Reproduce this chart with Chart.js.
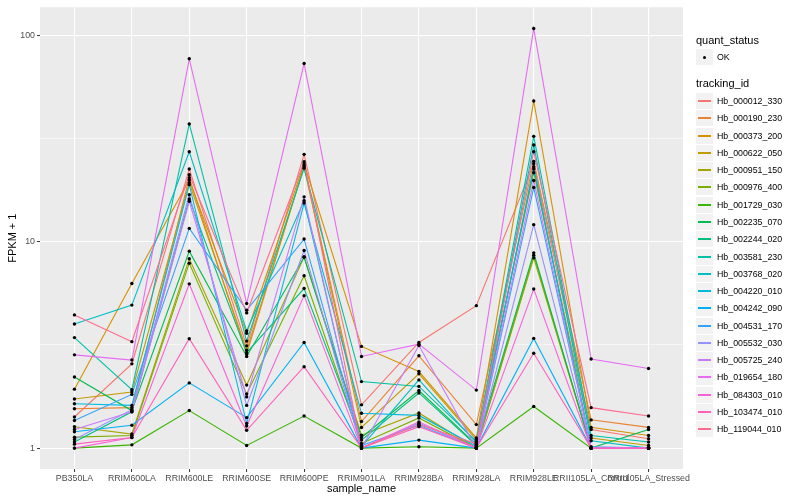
<!DOCTYPE html>
<html>
<head>
<meta charset="utf-8">
<script src="https://cdn.jsdelivr.net/npm/chart.js@4.4.0/dist/chart.umd.min.js"></script>
<style>
  body { margin: 0; background: #fff; font-family: "Liberation Sans", Arial, sans-serif; }
  #wrap { position: relative; width: 800px; height: 500px; }
  #legend { position: absolute; left: 0; top: 0; }
  .ttl { position: absolute; left: 696px; font-size: 11px; line-height: 13px; color: #000; }
  .key { position: absolute; left: 696px; width: 17px; height: 16px; background: #F2F2F2; }
  .key .ln { position: absolute; left: 2px; width: 13px; top: 7px; height: 2px; }
  .key .dot { position: absolute; left: 7px; top: 7px; width: 3px; height: 3px; border-radius: 2px; background: #000; }
  .lab { position: absolute; left: 717px; font-size: 8.8px; line-height: 10px; color: #000; }
</style>
</head>
<body>
<div id="wrap">
  <canvas id="chart" width="800" height="500"></canvas>
  <div id="legend"></div>
</div>
<script>
const categories = ["PB350LA", "RRIM600LA", "RRIM600LE", "RRIM600SE", "RRIM600PE", "RRIM901LA",
  "RRIM928BA", "RRIM928LA", "RRIM928LE", "RRII105LA_Control", "RRII105LA_Stressed"];

const trackingIds = ["Hb_000012_330", "Hb_000190_230", "Hb_000373_200", "Hb_000622_050", "Hb_000951_150",
  "Hb_000976_400", "Hb_001729_030", "Hb_002235_070", "Hb_002244_020", "Hb_003581_230", "Hb_003768_020",
  "Hb_004220_010", "Hb_004242_090", "Hb_004531_170", "Hb_005532_030", "Hb_005725_240", "Hb_019654_180",
  "Hb_084303_010", "Hb_103474_010", "Hb_119044_010"];

const colors = ["#F8766D", "#EA8331", "#D89000", "#C09B00", "#A3A500", "#7CAE00", "#39B600", "#00BB4E",
  "#00BF7D", "#00C1A3", "#00BFC4", "#00BAE0", "#00B0F6", "#35A2FF", "#9590FF", "#C77CFF", "#E76BF3",
  "#FA62DB", "#FF62BC", "#FF6C91"];

// FPKM + 1, one value per sample (same order as categories)
const hb000012 = [1.415, 2.56, 22.5, 3.13, 26.5, 1.62, 3.25, 4.9, 23.9, 1.23, 1.11];
const hb000190 = [1.55, 1.57, 20.4, 2.86, 23.4, 1.345, 2.80, 1.30, 24.5, 1.37, 1.26];
const hb000373 = [1.93, 6.27, 19.9, 3.60, 23.9, 3.11, 2.35, 1.12, 48.1, 1.26, 1.15];
const hb000622 = [1.73, 1.87, 19.3, 2.98, 23.0, 1.258, 2.29, 1.10, 21.6, 1.12, 1.03];
const hb000951 = [1.27, 1.17, 8.27, 2.02, 8.46, 1.155, 1.48, 1.0, 8.35, 1.0, 1.0];
const hb000976 = [1.13, 1.15, 7.87, 1.83, 6.84, 1.053, 1.40, 1.0, 8.6, 1.0, 1.0];
const hb001729 = [1.0, 1.037, 1.52, 1.03, 1.43, 1.0, 1.015, 1.0, 1.59, 1.0, 1.0];
const hb002235 = [2.21, 1.52, 9.0, 2.78, 8.4, 1.126, 1.90, 1.04, 8.83, 1.0, 1.23];
const hb002244 = [1.07, 1.50, 16.1, 2.9, 5.93, 1.093, 1.85, 1.03, 22.5, 1.0, 1.0];
const hb003581 = [3.43, 1.92, 37.2, 3.3, 22.7, 2.10, 1.99, 1.08, 32.4, 1.15, 1.07];
const hb003768 = [3.99, 4.93, 27.3, 3.70, 15.8, 1.017, 2.14, 1.06, 29.4, 1.085, 1.0];
const hb004220 = [1.64, 1.61, 18.9, 1.315, 15.4, 1.475, 1.44, 1.02, 23.1, 1.0, 1.0];
const hb004242 = [1.2, 1.29, 2.07, 1.405, 3.25, 1.0, 1.093, 1.0, 3.40, 1.0, 1.0];
const hb004531 = [1.36, 1.82, 11.6, 4.66, 10.3, 1.03, 1.29, 1.0, 18.3, 1.015, 1.0];
const hb005532 = [1.1, 1.535, 16.9, 1.61, 9.07, 1.0, 1.32, 1.0, 12.1, 1.0, 1.0];
const hb005725 = [1.23, 1.50, 15.7, 1.77, 16.5, 1.0, 3.14, 1.0, 19.8, 1.0, 1.0];
const hb019654 = [2.83, 2.67, 77, 5.02, 73, 2.78, 3.19, 1.91, 108, 2.70, 2.43];
const hb084303 = [1.0, 1.126, 6.25, 1.28, 5.48, 1.0, 1.34, 1.0, 5.90, 1.0, 1.0];
const hb103474 = [1.045, 1.126, 3.39, 1.22, 2.48, 1.0, 1.27, 1.0, 2.88, 1.0, 1.0];
const hb119044 = [4.42, 3.28, 21.1, 4.52, 24.4, 1.0, 1.30, 1.05, 27.3, 1.57, 1.43];

const seriesValues = [hb000012, hb000190, hb000373, hb000622, hb000951, hb000976, hb001729, hb002235,
  hb002244, hb003581, hb003768, hb004220, hb004242, hb004531, hb005532, hb005725, hb019654, hb084303,
  hb103474, hb119044];

const yTicks = [1, Math.sqrt(10), 10, Math.sqrt(1000), 100];
const yMajor = [1, 10, 100];

const toPoints = (vals) => vals.map((v, i) => ({ x: i, y: v }));

const datasets = seriesValues.map((vals, s) => ({
  label: trackingIds[s],
  data: toPoints(vals),
  borderColor: colors[s],
  borderWidth: 1.1,
  pointRadius: 0,
  fill: false,
  tension: 0,
  order: 20 - s,
}));

// all points in black on top of the lines
datasets.push({
  label: "OK",
  data: seriesValues.flatMap(toPoints),
  showLine: false,
  pointRadius: 1.7,
  pointBackgroundColor: "#000",
  pointBorderWidth: 0,
  order: 0,
});

const panelBg = {
  id: "panelBg",
  beforeDraw(chart) {
    const { ctx, chartArea: a } = chart;
    ctx.save();
    ctx.fillStyle = "#EBEBEB";
    ctx.fillRect(a.left, a.top, a.right - a.left, a.bottom - a.top);
    ctx.restore();
  },
};

const tickFont = { family: "'Liberation Sans', Arial, sans-serif", size: 8.8 };
const titleFont = { family: "'Liberation Sans', Arial, sans-serif", size: 11 };

new Chart(document.getElementById("chart"), {
  type: "line",
  data: { datasets },
  options: {
    responsive: false,
    animation: false,
    layout: { padding: { left: 0, right: 117, top: 5, bottom: 0 } },
    plugins: { legend: { display: false }, tooltip: { enabled: false } },
    scales: {
      x: {
        type: "linear",
        min: -0.6,
        max: 10.6,
        bounds: "data",
        afterBuildTicks: (s) => { s.ticks = categories.map((c, i) => ({ value: i })); },
        afterFit: (s) => { s.height = 31; },
        grid: { color: "#FFFFFF", lineWidth: 1.1, tickColor: "#333333", tickLength: 3, tickWidth: 1 },
        border: { display: false },
        ticks: {
          autoSkip: false, maxRotation: 0, minRotation: 0, padding: 1,
          color: "#4D4D4D", font: tickFont,
          callback: (v) => categories[v],
        },
        title: { display: true, text: "sample_name", color: "#000", font: titleFont, padding: { top: 0, bottom: 4 } },
      },
      y: {
        type: "logarithmic",
        min: Math.pow(10, -0.1013),
        max: Math.pow(10, 2.136),
        bounds: "data",
        afterBuildTicks: (s) => { s.ticks = yTicks.map((v) => ({ value: v })); },
        afterFit: (s) => { s.width = 40; },
        grid: {
          color: "#FFFFFF",
          lineWidth: (c) => (yMajor.includes(c.tick && c.tick.value) ? 1.1 : 0.55),
          tickColor: (c) => (yMajor.includes(c.tick && c.tick.value) ? "#333333" : "rgba(0,0,0,0)"),
          tickLength: 3,
          tickWidth: 1,
        },
        border: { display: false },
        ticks: {
          padding: 2, color: "#4D4D4D", font: tickFont,
          callback: (v) => (yMajor.includes(v) ? String(v) : ""),
        },
        title: { display: true, text: "FPKM + 1", color: "#000", font: titleFont, padding: { top: 6, bottom: 0 } },
      },
    },
  },
  plugins: [panelBg],
});

// ggplot-style legend on the right
const legend = document.getElementById("legend");
const add = (html) => legend.insertAdjacentHTML("beforeend", html);

add(`<div class="ttl" style="top:34px">quant_status</div>`);
add(`<div class="key" style="top:49px"><div class="dot"></div></div>`);
add(`<div class="lab" style="top:52px">OK</div>`);
add(`<div class="ttl" style="top:77px">tracking_id</div>`);

trackingIds.forEach((id, i) => {
  const cy = Math.round(101 + i * 17.28);
  add(`<div class="key" style="top:${cy - 8}px"><div class="ln" style="background:${colors[i]}"></div></div>`);
  add(`<div class="lab" style="top:${cy - 5}px">${id}</div>`);
});
</script>
</body>
</html>
